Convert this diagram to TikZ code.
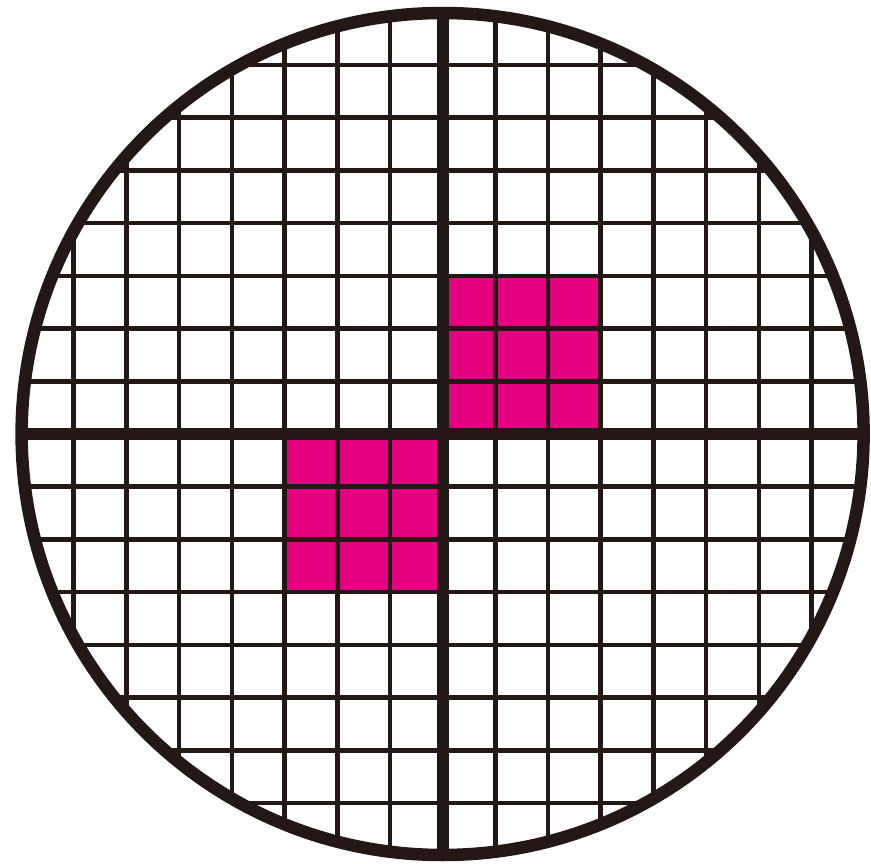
\documentclass[tikz,border=0pt]{standalone}
\definecolor{ink}{HTML}{231815}
\definecolor{mag}{HTML}{E4007F}
\tikzset{
  thinline/.style={draw=ink,line width=4.6pt},
  thickline/.style={draw=ink,line width=12pt},
  rim/.style={draw=ink,line width=12.5pt},
  cellfill/.style={fill=mag}
}
\begin{document}
\begin{tikzpicture}[x=1pt,y=-1pt]
\useasboundingbox (0,0) rectangle (871,864);
\def\cx{442.6}
\def\cy{434}
\def\R{421}
\def\s{52.7}
\begin{scope}
  \clip (\cx,\cy) circle (\R);
  % magenta blocks
  \fill[cellfill] (\cx,\cy) rectangle ({\cx+3*\s},{\cy-3*\s});
  \fill[cellfill] (\cx,\cy) rectangle ({\cx-3*\s},{\cy+3*\s});
  % thin grid
  \foreach \k in {-7,...,-1,1,2,...,7} {
    \draw[thinline] ({\cx+\k*\s},{\cy-\R-10}) -- ({\cx+\k*\s},{\cy+\R+10});
    \draw[thinline] ({\cx-\R-10},{\cy+\k*\s}) -- ({\cx+\R+10},{\cy+\k*\s});
  }
  % thick cross
  \draw[thickline] (\cx,{\cy-\R-10}) -- (\cx,{\cy+\R+10});
  \draw[thickline] ({\cx-\R-10},\cy) -- ({\cx+\R+10},\cy);
\end{scope}
\draw[rim] (\cx,\cy) circle (\R);
\end{tikzpicture}
\end{document}
